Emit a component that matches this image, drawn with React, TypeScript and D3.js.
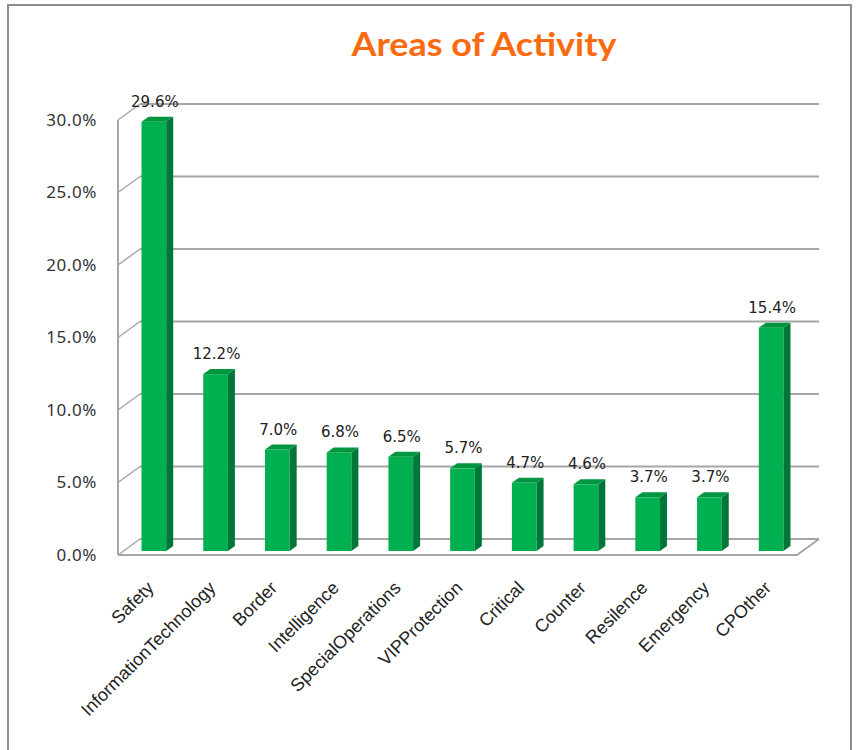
import React from "react";
import * as d3 from "d3";

const categories = [
  "Safety",
  "InformationTechnology",
  "Border",
  "Intelligence",
  "SpecialOperations",
  "VIPProtection",
  "Critical",
  "Counter",
  "Resilence",
  "Emergency",
  "CPOther",
];
const values = [29.6, 12.2, 7.0, 6.8, 6.5, 5.7, 4.7, 4.6, 3.7, 3.7, 15.4];
const yTicks = [0, 5, 10, 15, 20, 25, 30];

const width = 857,
  height = 750;

// floor front edge and wall depth offset
const x0 = 118,
  x1 = 797,
  floorY = 555;
const depthX = 22,
  depthY = -16;
// bar sits a bit behind the floor front
const barDX = 5,
  barDY = -4;
const barDepthX = 7,
  barDepthY = -5;

const green = "#00b050",
  greenSide = "#00773a",
  greenTop = "#00963f",
  gridColor = "#a6a6a6";

export default function App() {
  const y = d3.scaleLinear().domain([0, 30]).range([0, 435]);
  const x = d3
    .scaleBand()
    .domain(categories)
    .range([x0 + barDX, x1 + barDX])
    .paddingInner(0.6)
    .paddingOuter(0.3);
  const fmt = (v: number) => d3.format(".1f")(v) + "%";

  return (
    <svg
      width={width}
      height={height}
      style={{ position: "absolute", left: 0, top: 0, background: "#fff" }}
    >
      <rect x={8} y={5} width={843} height={800} fill="#fff" stroke="#8c8c8c" strokeWidth={2} />

      <text
        x={484}
        y={56}
        textAnchor="middle"
        fontFamily="Lato, 'Open Sans', sans-serif"
        fontWeight="bold"
        fontSize={32}
        fill="#fa6a0f"
        textLength={265}
        lengthAdjust="spacingAndGlyphs"
      >
        Areas of Activity
      </text>

      {/* back wall gridlines and left wall */}
      {yTicks.map((t) => {
        const yf = floorY - y(t);
        return (
          <g key={t}>
            <line
              x1={x0 + depthX}
              x2={x1 + depthX}
              y1={yf + depthY}
              y2={yf + depthY}
              stroke={gridColor}
              strokeWidth={2}
            />
            <line
              x1={x0}
              x2={x0 + depthX}
              y1={yf}
              y2={yf + depthY}
              stroke={gridColor}
              strokeWidth={1.5}
            />
            <text
              x={97}
              y={yf}
              dy="0.35em"
              textAnchor="end"
              fontFamily="'Noto Sans', sans-serif"
              fontSize={17}
              letterSpacing={0.6}
              fill="#333"
            >
              {fmt(t)}
            </text>
          </g>
        );
      })}
      <line x1={x0} x2={x0} y1={floorY - y(30)} y2={floorY} stroke={gridColor} strokeWidth={2} />
      {/* floor */}
      <path
        d={`M${x0},${floorY}L${x1},${floorY}L${x1 + depthX},${floorY + depthY}`}
        fill="none"
        stroke={gridColor}
        strokeWidth={2}
      />

      {categories.map((c, i) => {
        const bx = x(c) as number;
        const bw = x.bandwidth();
        const bottom = floorY + barDY;
        const top = bottom - y(values[i]);
        const cx = bx + bw / 2;
        return (
          <g key={c}>
            <rect x={bx} y={top} width={bw} height={bottom - top} fill={green} />
            <path
              d={`M${bx + bw},${top}L${bx + bw + barDepthX},${top + barDepthY}L${bx + bw + barDepthX},${bottom + barDepthY}L${bx + bw},${bottom}Z`}
              fill={greenSide}
            />
            <path
              d={`M${bx},${top}L${bx + barDepthX},${top + barDepthY}L${bx + bw + barDepthX},${top + barDepthY}L${bx + bw},${top}Z`}
              fill={greenTop}
            />
            <text
              x={cx + 1}
              y={top - 15}
              textAnchor="middle"
              fontFamily="'DejaVu Sans', sans-serif"
              fontSize={15}
              fill="#222"
            >
              {fmt(values[i])}
            </text>
            <text
              transform={`translate(${cx + 1},${589}) rotate(-45)`}
              textAnchor="end"
              fontFamily="'Liberation Sans', Arial, sans-serif"
              fontSize={18}
              fill="#222"
            >
              {c}
            </text>
          </g>
        );
      })}
    </svg>
  );
}
